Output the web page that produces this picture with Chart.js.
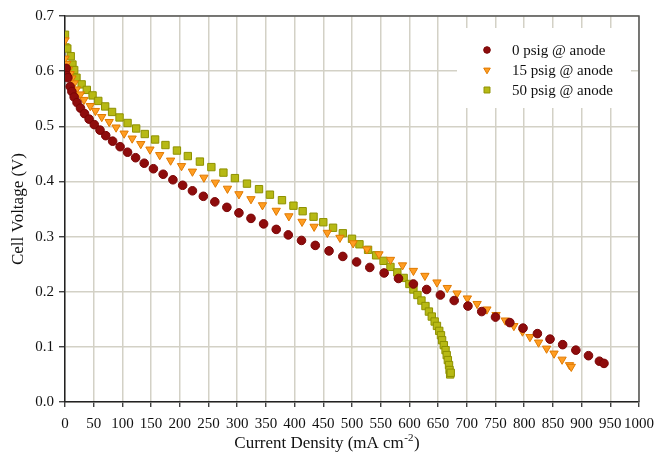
<!DOCTYPE html>
<html>
<head>
<meta charset="utf-8">
<script src="https://cdn.jsdelivr.net/npm/chart.js@4/dist/chart.umd.min.js"></script>
<style>
  html, body { margin: 0; padding: 0; background: #ffffff; }
  #wrap { width: 655px; height: 453px; position: relative; }
</style>
</head>
<body>
<div id="wrap"><canvas id="c" width="655" height="453"></canvas></div>
<script>
// ---- Data ----
const seriesLabels = ['0 psig @ anode', '15 psig @ anode', '50 psig @ anode'];

const psig0_x = [0, 2, 3, 5, 9, 12, 16, 21, 27, 34, 42, 51, 61, 71, 83, 96, 109, 123, 138, 154, 171, 188, 205, 222, 241, 261, 282, 303, 324, 346, 368, 389, 412, 436, 460, 484, 508, 531, 556, 581, 607, 630, 654, 678, 702, 726, 750, 775, 798, 823, 845, 867, 890, 912, 931, 939];
const psig0_v = [0.600, 0.605, 0.592, 0.588, 0.572, 0.563, 0.553, 0.543, 0.533, 0.523, 0.513, 0.503, 0.493, 0.483, 0.473, 0.463, 0.453, 0.443, 0.433, 0.423, 0.413, 0.403, 0.393, 0.383, 0.373, 0.363, 0.353, 0.343, 0.333, 0.323, 0.313, 0.303, 0.293, 0.284, 0.274, 0.264, 0.254, 0.244, 0.234, 0.224, 0.214, 0.204, 0.194, 0.184, 0.174, 0.164, 0.154, 0.144, 0.134, 0.124, 0.114, 0.104, 0.094, 0.084, 0.074, 0.070];

const psig15_x = [0, 0, 3, 6, 9, 12, 16, 20, 27, 33, 44, 53, 64, 77, 89, 103, 117, 132, 148, 165, 184, 203, 222, 242, 262, 283, 303, 324, 344, 368, 390, 413, 434, 457, 479, 502, 526, 547, 567, 588, 607, 627, 648, 666, 683, 701, 718, 735, 751, 767, 782, 797, 810, 825, 839, 852, 866, 879, 882];
const psig15_v = [0.656, 0.623, 0.613, 0.603, 0.595, 0.587, 0.578, 0.567, 0.558, 0.548, 0.537, 0.528, 0.517, 0.508, 0.498, 0.487, 0.478, 0.468, 0.458, 0.448, 0.438, 0.428, 0.418, 0.407, 0.398, 0.387, 0.377, 0.368, 0.357, 0.347, 0.337, 0.327, 0.318, 0.307, 0.298, 0.288, 0.277, 0.268, 0.258, 0.248, 0.238, 0.229, 0.217, 0.207, 0.197, 0.188, 0.178, 0.168, 0.158, 0.148, 0.138, 0.128, 0.118, 0.108, 0.097, 0.088, 0.077, 0.067, 0.064];

const psig50_x = [0, 1, 4, 10, 13, 16, 20, 29, 38, 48, 58, 70, 82, 95, 109, 124, 139, 157, 175, 195, 214, 235, 255, 276, 296, 317, 338, 357, 378, 398, 414, 433, 450, 467, 484, 500, 513, 528, 542, 555, 567, 579, 590, 600, 607, 614, 621, 628, 634, 639, 644, 648, 652, 655, 657, 660, 663, 665, 667, 669, 670, 671, 672];
const psig50_v = [0.666, 0.643, 0.641, 0.627, 0.612, 0.602, 0.588, 0.576, 0.566, 0.556, 0.546, 0.536, 0.526, 0.516, 0.506, 0.496, 0.486, 0.476, 0.466, 0.456, 0.446, 0.436, 0.426, 0.416, 0.406, 0.396, 0.386, 0.376, 0.366, 0.356, 0.346, 0.336, 0.326, 0.316, 0.306, 0.296, 0.286, 0.276, 0.266, 0.256, 0.245, 0.235, 0.225, 0.214, 0.204, 0.194, 0.184, 0.174, 0.164, 0.155, 0.146, 0.138, 0.129, 0.121, 0.112, 0.103, 0.094, 0.085, 0.076, 0.067, 0.058, 0.050, 0.053];

const xTitleMain = 'Current Density (mA cm';
const xTitleSup = '-2';
const xTitleEnd = ')';
const yTitle = 'Cell Voltage (V)';

// ---- build ----
function pts(xs, vs) { return xs.map((x, i) => ({ x: x, y: vs[i] })); }

const serif = "'Liberation Serif', 'Times New Roman', 'DejaVu Serif', serif";

const datasets = [
  { label: seriesLabels[0], data: pts(psig0_x, psig0_v), pointStyle: 'circle', pointRadius: 4.3, pointRotation: 0,
    backgroundColor: '#8e0c0c', borderColor: '#7a0505', pointBorderWidth: 1, showLine: false },
  { label: seriesLabels[1], data: pts(psig15_x, psig15_v), pointStyle: 'triangle', pointRadius: 4.8, pointRotation: 180,
    backgroundColor: '#ff9d22', borderColor: '#e07a00', pointBorderWidth: 1, showLine: false },
  { label: seriesLabels[2], data: pts(psig50_x, psig50_v), pointStyle: 'rect', pointRadius: 5.2, pointRotation: 0,
    backgroundColor: '#b7b914', borderColor: '#8e9100', pointBorderWidth: 1, showLine: false }
];

const framePlugin = {
  id: 'frame',
  afterDraw(chart) {
    const { ctx, chartArea: a } = chart;
    ctx.save();
    ctx.strokeStyle = '#555';
    ctx.lineWidth = 1.5;
    ctx.beginPath();
    ctx.moveTo(a.left, a.top);
    ctx.lineTo(a.right, a.top);
    ctx.lineTo(a.right, a.bottom);
    ctx.stroke();
    ctx.restore();
  }
};

const xTitlePlugin = {
  id: 'xTitle',
  afterDraw(chart) {
    const { ctx, chartArea: a } = chart;
    ctx.save();
    ctx.fillStyle = '#111';
    ctx.textBaseline = 'alphabetic';
    ctx.textAlign = 'left';
    const big = '17px ' + serif, small = '11px ' + serif;
    ctx.font = big;
    const w1 = ctx.measureText(xTitleMain).width;
    const w3 = ctx.measureText(xTitleEnd).width;
    ctx.font = small;
    const w2 = ctx.measureText(xTitleSup).width;
    const total = w1 + w2 + w3 + 1;
    const cx = (a.left + a.right) / 2 - 25;
    const x0 = cx - total / 2;
    const base = a.bottom + 46;
    ctx.font = big;
    ctx.fillText(xTitleMain, x0, base);
    ctx.font = small;
    ctx.fillText(xTitleSup, x0 + w1 + 0.5, base - 7);
    ctx.font = big;
    ctx.fillText(xTitleEnd, x0 + w1 + w2 + 1, base);
    ctx.restore();
  }
};

const legendPlugin = {
  id: 'boxLegend',
  afterDraw(chart) {
    const { ctx, chartArea: a } = chart;
    const bx = a.right - 182, by = a.top + 12, bw = 174, bh = 80;
    ctx.save();
    ctx.fillStyle = '#ffffff';
    ctx.fillRect(bx, by, bw, bh);
    ctx.font = '15px ' + serif;
    ctx.textBaseline = 'middle';
    ctx.textAlign = 'left';
    chart.data.datasets.forEach((ds, i) => {
      const y = by + 22 + i * 20;
      const mx = bx + 30;
      ctx.fillStyle = ds.backgroundColor;
      ctx.strokeStyle = ds.borderColor;
      ctx.lineWidth = 1;
      Chart.helpers.drawPoint(ctx, {
        pointStyle: ds.pointStyle,
        rotation: ds.pointRotation,
        radius: ds.pointStyle === 'circle' ? 3.3 : (ds.pointStyle === 'rect' ? 4.2 : 3.8),
        borderWidth: 1
      }, mx, y);
      ctx.fillStyle = '#111';
      ctx.fillText(ds.label, bx + 55, y + 1);
    });
    ctx.restore();
  }
};

new Chart(document.getElementById('c'), {
  type: 'scatter',
  data: { datasets: datasets },
  options: {
    responsive: false,
    animation: false,
    devicePixelRatio: 1,
    layout: { padding: { top: 16, right: 16, left: 0, bottom: 0 } },
    plugins: { legend: { display: false }, tooltip: { enabled: false } },
    scales: {
      x: {
        type: 'linear',
        min: 0, max: 1000,
        afterFit(s) { s.height = 51; s.paddingRight = 12; s.paddingLeft = 0; },
        ticks: {
          stepSize: 50, autoSkip: false, maxRotation: 0, minRotation: 0,
          color: '#111', padding: 8,
          font: { family: serif, size: 15 },
          callback: (v) => String(Math.round(v))
        },
        grid: { color: '#d3d1c6', lineWidth: 1.5, tickLength: 5, tickColor: '#222', tickWidth: 1.2 },
        border: { color: '#222', width: 1.5 },
        title: { display: false }
      },
      y: {
        type: 'linear',
        min: 0, max: 0.7,
        afterFit(s) { s.width = 65; },
        ticks: {
          stepSize: 0.1, color: '#111', padding: 5,
          font: { family: serif, size: 15 },
          callback: (v) => Number(v).toFixed(1)
        },
        grid: { color: '#d3d1c6', lineWidth: 1.5, tickLength: 6, tickColor: '#222', tickWidth: 1.2 },
        border: { color: '#222', width: 1.5 },
        title: { display: true, text: yTitle, color: '#111', font: { family: serif, size: 17 }, padding: { top: 8, bottom: 0 } }
      }
    }
  },
  plugins: [framePlugin, xTitlePlugin, legendPlugin]
});
</script>
</body>
</html>
